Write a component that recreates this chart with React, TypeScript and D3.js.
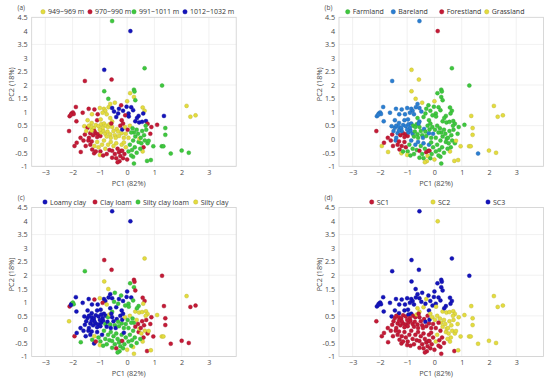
import React, { useRef, useEffect } from 'react';
import * as d3 from 'd3';

// legend groups of the four panels
const elevationGroups = ['949~969 m', '970~990 m', '991~1011 m', '1012~1032 m'];
const landUseGroups = ['Farmland', 'Bareland', 'Forestland', 'Grassland'];
const textureGroups = ['Loamy clay', 'Clay loam', 'Silty clay loam', 'Silty clay'];
const clusterGroups = ['SC1', 'SC2', 'SC3'];

const xTicks = [-3, -2, -1, 0, 1, 2, 3];
const yTicks = [-1, -0.5, 0, 0.5, 1, 1.5, 2, 2.5, 3, 3.5, 4, 4.5];
const yGrid = [-1, 0.5, 2, 3.5];

// rows: [PC1, PC2, elevation, land use, texture, cluster]
const outlierScores = [
    [-0.55, 4.36, 2, 1, 0, 2], [0.12, 3.99, 3, 2, 0, 1], [-0.84, 2.56, 3, 3, 1, 2],
    [-1.55, 2.15, 1, 1, 2, 2], [-0.57, 2.2, 1, 3, 1, 2], [0.64, 2.62, 2, 0, 3, 2],
    [1.28, 1.98, 2, 0, 1, 2], [-0.84, 1.77, 2, 3, 3, 2], [-0.69, 1.49, 2, 3, 3, 2],
    [2.18, 1.23, 0, 3, 3, 1], [2.32, 0.83, 0, 3, 1, 1], [2.51, 0.88, 0, 3, 1, 1],
    [1.35, 0.86, 3, 3, 1, 1], [1.1, 0.53, 1, 0, 3, 1], [1.4, 0.41, 2, 3, 1, 1],
    [1.4, 0.16, 2, 3, 1, 1], [0.96, -0.26, 2, 3, 1, 1], [1.27, -0.26, 2, 3, 3, 1],
    [1.33, -0.26, 2, 3, 3, 1], [1.6, -0.53, 2, 1, 1, 1], [2.0, -0.42, 2, 3, 1, 1],
    [2.26, -0.5, 2, 3, 1, 1], [0.73, -0.8, 2, 3, 1, 0], [0.87, -0.77, 2, 3, 3, 1],
    [0.22, -0.65, 2, 0, 3, 0], [0.25, -0.9, 2, 0, 3, 0],
];

const upperRightScores = [
    [0.25, 1.83, 2, 0, 1, 2], [0.27, 1.76, 2, 0, 1, 2], [0.11, 1.7, 0, 0, 2, 2],
    [0.25, 1.56, 0, 0, 2, 2], [0.3, 1.44, 2, 0, 1, 2], [0.0, 1.4, 0, 3, 0, 2],
    [0.15, 1.18, 3, 0, 0, 2], [0.22, 1.07, 3, 0, 2, 2], [0.05, 0.95, 3, 0, 2, 2],
    [0.57, 1.17, 0, 0, 1, 2], [0.64, 1.05, 0, 0, 1, 2], [0.59, 0.95, 3, 0, 3, 2],
    [0.42, 0.86, 3, 0, 2, 2], [0.3, 0.66, 3, 0, 3, 1], [0.44, 0.62, 3, 0, 3, 1],
    [0.55, 0.64, 3, 0, 3, 1], [0.69, 0.67, 3, 0, 3, 1], [0.36, 0.78, 3, 0, 2, 2],
    [0.75, 0.57, 1, 0, 3, 1], [0.89, 0.45, 1, 0, 1, 1],
];

const upperCentreScores = [
    [-0.85, 1.12, 0, 1, 0, 2], [-0.8, 1.05, 0, 1, 0, 2], [-0.9, 0.98, 0, 1, 1, 2],
    [-0.75, 0.92, 0, 1, 3, 2], [-0.68, 1.18, 0, 1, 0, 2], [-0.55, 1.15, 3, 1, 0, 2],
    [-0.48, 1.02, 3, 1, 2, 2], [-0.4, 0.82, 3, 0, 0, 1], [-0.33, 0.95, 3, 0, 2, 2],
    [-0.3, 1.12, 3, 0, 0, 1], [-0.22, 1.25, 1, 0, 2, 2], [-0.15, 1.05, 3, 0, 0, 2],
    [-0.07, 0.88, 1, 0, 2, 2], [0.06, 0.84, 3, 0, 2, 1], [-0.62, 0.78, 0, 0, 0, 1],
    [-0.55, 0.65, 0, 1, 2, 1], [-0.45, 1.35, 0, 3, 2, 2], [-0.62, 1.3, 0, 1, 0, 2],
    [-0.2, 0.7, 1, 0, 0, 2], [-0.02, 1.2, 3, 0, 0, 2],
];

const upperLeftScores = [
    [-2.11, 0.85, 1, 1, 1, 2], [-2.04, 0.95, 1, 1, 0, 2], [-1.99, 0.99, 1, 1, 2, 2],
    [-1.96, 0.93, 1, 1, 2, 2], [-1.88, 1.19, 1, 1, 0, 2], [-2.06, 0.9, 1, 1, 0, 2],
    [-1.63, 0.98, 1, 1, 0, 2], [-1.41, 1.12, 1, 1, 0, 2], [-1.2, 1.1, 1, 1, 1, 2],
    [-1.29, 0.92, 0, 1, 0, 2], [-1.08, 0.92, 1, 1, 0, 2], [-1.1, 0.7, 1, 1, 0, 2],
    [-0.97, 0.73, 0, 1, 0, 2], [-1.0, 1.15, 0, 1, 3, 2], [-1.86, 0.66, 1, 1, 0, 2],
    [-1.45, 0.7, 0, 1, 0, 2], [-1.3, 0.6, 0, 1, 0, 2],
];

const lowerLeftScores = [
    [-2.13, 0.3, 1, 2, 3, 0], [-1.93, -0.25, 1, 3, 1, 0], [-1.85, -0.13, 1, 2, 0, 0],
    [-1.7, -0.47, 1, 3, 2, 0], [-1.71, 0.05, 1, 2, 0, 0], [-1.57, 0.48, 0, 1, 0, 2],
    [-1.55, 0.17, 1, 2, 0, 0], [-1.45, 0.42, 1, 1, 0, 0], [-1.5, 0.3, 0, 1, 0, 0],
    [-1.6, -0.05, 1, 2, 0, 0], [-1.4, 0.5, 0, 1, 0, 0], [-1.52, -0.25, 1, 2, 0, 0],
    [-1.3, 0.45, 0, 1, 0, 0], [-1.22, 0.4, 0, 1, 0, 0], [-1.15, 0.52, 0, 1, 0, 0],
    [-1.05, 0.48, 0, 1, 0, 0], [-0.95, 0.55, 0, 1, 0, 2], [-0.85, 0.58, 0, 1, 0, 2],
    [-0.78, 0.5, 0, 0, 0, 0], [-0.7, 0.45, 0, 0, 2, 0], [-0.65, 0.55, 0, 0, 3, 1],
    [-1.35, 0.22, 1, 1, 0, 0], [-1.25, 0.15, 1, 2, 0, 0], [-1.15, 0.22, 1, 2, 0, 0],
    [-1.05, 0.18, 1, 2, 0, 0], [-0.98, 0.12, 1, 2, 0, 0], [-1.1, 0.08, 1, 2, 0, 0],
    [-0.95, 0.25, 0, 1, 0, 0], [-0.88, 0.32, 0, 1, 0, 0], [-0.8, 0.2, 0, 1, 2, 0],
    [-0.72, 0.28, 0, 0, 0, 0], [-0.62, 0.18, 0, 0, 2, 0], [-1.4, 0.05, 1, 1, 0, 0],
    [-1.2, 0.3, 1, 1, 0, 0], [-0.9, 0.42, 0, 1, 0, 0], [-1.0, 0.35, 0, 1, 0, 0],
    [-0.75, 0.1, 0, 0, 0, 0], [-1.3, 0.32, 0, 1, 0, 0],
    [-1.42, -0.05, 1, 1, 0, 0], [-1.35, -0.2, 1, 2, 0, 0], [-1.28, -0.38, 1, 2, 2, 0],
    [-1.21, -0.52, 1, 3, 0, 0], [-1.2, -0.25, 0, 2, 3, 0], [-1.1, -0.1, 0, 2, 0, 0],
    [-1.05, -0.3, 0, 2, 2, 0], [-0.98, -0.45, 1, 0, 2, 0], [-0.92, -0.2, 0, 0, 0, 0],
    [-0.85, -0.05, 0, 1, 2, 0], [-0.8, -0.35, 0, 0, 2, 0], [-0.75, -0.55, 1, 0, 2, 0],
    [-0.7, -0.2, 0, 1, 2, 0], [-0.65, -0.4, 1, 0, 2, 0], [-1.0, -0.58, 0, 3, 3, 0],
    [-1.15, -0.45, 1, 0, 1, 0], [-0.88, -0.6, 1, 0, 2, 0], [-0.6, -0.1, 0, 1, 2, 0],
    [-1.3, -0.08, 1, 2, 0, 0],
];

const lowerCentreScores = [
    [-0.55, -0.43, 1, 2, 2, 0], [-0.5, -0.25, 0, 0, 2, 0], [-0.45, -0.55, 1, 0, 2, 0],
    [-0.4, -0.7, 1, 0, 1, 0], [-0.35, -0.35, 1, 0, 2, 0], [-0.3, -0.48, 1, 2, 2, 0],
    [-0.25, -0.62, 1, 3, 2, 0], [-0.22, -0.43, 1, 2, 2, 0], [-0.18, -0.43, 1, 2, 1, 0],
    [-0.15, -0.7, 1, 0, 2, 0], [-0.28, -0.81, 1, 3, 2, 0], [-0.1, -0.55, 1, 0, 2, 0],
    [-0.05, -0.3, 0, 0, 2, 0], [0.0, -0.75, 1, 3, 3, 0], [0.05, -0.45, 2, 0, 2, 1],
    [0.1, -0.2, 2, 0, 2, 1], [-0.4, -0.15, 0, 1, 2, 0], [-0.2, -0.2, 0, 1, 2, 0],
    [-0.12, -0.12, 0, 0, 0, 0], [0.15, -0.6, 2, 0, 2, 0], [-0.55, -0.68, 1, 0, 2, 0],
    [-0.35, -0.85, 1, 3, 2, 0],
    [-0.55, 0.45, 0, 0, 0, 0], [-0.5, 0.3, 0, 0, 0, 0], [-0.45, 0.15, 0, 0, 2, 0],
    [-0.42, 0.05, 0, 1, 0, 0], [-0.38, 0.38, 0, 1, 0, 0], [-0.33, 0.28, 0, 0, 2, 2],
    [-0.3, 0.12, 0, 0, 2, 0], [-0.25, 0.5, 1, 0, 0, 0], [-0.2, 0.22, 0, 1, 2, 0],
    [-0.18, 0.36, 3, 0, 0, 2], [-0.12, 0.05, 0, 0, 2, 0], [-0.08, 0.45, 0, 0, 3, 1],
    [-0.05, 0.2, 0, 1, 2, 0], [0.02, 0.35, 1, 0, 2, 1], [0.05, 0.05, 0, 0, 2, 0],
    [0.1, 0.5, 0, 0, 3, 1], [-0.6, 0.05, 0, 0, 0, 0], [-0.58, 0.58, 1, 1, 0, 0],
    [-0.15, 0.58, 1, 0, 0, 1],
];

const lowerRightScores = [
    [0.2, 0.4, 2, 0, 2, 1], [0.25, 0.25, 2, 0, 2, 1], [0.3, 0.1, 2, 0, 1, 1],
    [0.22, -0.05, 2, 0, 2, 0], [0.28, -0.3, 2, 0, 2, 0], [0.35, 0.35, 2, 0, 3, 1],
    [0.4, 0.2, 2, 0, 1, 1], [0.42, -0.1, 2, 0, 1, 1], [0.45, 0.02, 0, 0, 3, 1],
    [0.5, 0.05, 2, 0, 1, 1], [0.52, -0.15, 2, 0, 3, 1], [0.55, 0.3, 2, 0, 1, 1],
    [0.57, -0.45, 0, 3, 3, 1], [0.6, -0.3, 1, 0, 1, 1], [0.62, 0.15, 2, 0, 1, 1],
    [0.65, -0.05, 2, 0, 3, 1], [0.7, 0.35, 2, 0, 1, 1], [0.75, -0.15, 2, 0, 1, 1],
    [0.79, -0.06, 2, 3, 3, 1], [0.35, -0.5, 2, 0, 2, 0], [0.15, 0.25, 2, 0, 2, 0],
    [0.85, 0.2, 1, 0, 1, 1], [0.48, -0.35, 2, 0, 2, 1], [0.18, -0.4, 2, 0, 2, 0],
    [0.68, 0.5, 2, 0, 3, 1],
];

const YELLOW = '#e4dc3e';
const RED = '#c41a36';
const GREEN = '#3ec83e';
const NAVY = '#1414bc';
const SKY = '#2a7ed2';

const panels = [
    { tag: '(a)', col: 2, groups: elevationGroups, colors: [YELLOW, RED, GREEN, NAVY], left: 31.7, top: 17.3, legend: [43, 90, 134, 185] },
    { tag: '(b)', col: 3, groups: landUseGroups, colors: [GREEN, SKY, RED, YELLOW], left: 339, top: 17.3, legend: [347.7, 393.3, 441.7, 486.7] },
    { tag: '(c)', col: 4, groups: textureGroups, colors: [NAVY, RED, GREEN, YELLOW], left: 31.7, top: 207.5, legend: [45, 95, 138, 195.7] },
    { tag: '(d)', col: 5, groups: clusterGroups, colors: [RED, YELLOW, NAVY], left: 339, top: 207.5, legend: [371.7, 433, 488] },
];

const FONT = "'Open Sans', sans-serif";

export default function App() {
    const svg_ref = useRef(null);

    useEffect(() => {
        const svg = d3.select(svg_ref.current);
        svg.selectAll('*').remove();

        const samples = [
            ...outlierScores, ...upperRightScores, ...upperCentreScores, ...upperLeftScores,
            ...lowerLeftScores, ...lowerCentreScores, ...lowerRightScores,
        ];
        const w = 204.5;
        const h = 149;

        panels.forEach((p) => {
            const x = d3.scaleLinear([-3.5, 4], [p.left, p.left + w]);
            const y = d3.scaleLinear([-1, 4.5], [p.top + h, p.top]);
            const g = svg.append('g');

            g.append('rect')
                .attr('x', p.left).attr('y', p.top)
                .attr('width', w).attr('height', h)
                .attr('fill', '#fff');

            g.selectAll('.gx').data(xTicks).join('line')
                .attr('x1', (d) => x(d)).attr('x2', (d) => x(d))
                .attr('y1', p.top).attr('y2', p.top + h)
                .attr('stroke', '#e8e8e8').attr('stroke-width', 0.6);
            g.selectAll('.gy').data(yGrid).join('line')
                .attr('x1', p.left).attr('x2', p.left + w)
                .attr('y1', (d) => y(d)).attr('y2', (d) => y(d))
                .attr('stroke', '#e8e8e8').attr('stroke-width', 0.6);

            const xAxis = d3.axisBottom(x).tickValues(xTicks).tickSize(0).tickPadding(3.5).tickFormat(d3.format('d'));
            const yAxis = d3.axisLeft(y).tickValues(yTicks).tickSize(0).tickPadding(4).tickFormat((d) => String(d));
            const ax = g.append('g').attr('transform', `translate(0,${p.top + h})`).call(xAxis);
            const ay = g.append('g').attr('transform', `translate(${p.left},0)`).call(yAxis);
            [ax, ay].forEach((a) => {
                a.select('.domain').remove();
                a.selectAll('text').attr('font-family', FONT).attr('font-size', 7.2).attr('fill', '#4a4a4a');
            });

            g.append('rect')
                .attr('x', p.left).attr('y', p.top)
                .attr('width', w).attr('height', h)
                .attr('fill', 'none').attr('stroke', '#cfcfcf').attr('stroke-width', 0.8);

            g.append('g').selectAll('circle').data(samples).join('circle')
                .attr('cx', (d) => x(d[0]))
                .attr('cy', (d) => y(d[1]))
                .attr('r', 2)
                .attr('fill', (d) => p.colors[d[p.col]])
                .attr('stroke', (d) => d3.color(p.colors[d[p.col]]).darker(0.6))
                .attr('stroke-width', 0.4);

            g.append('text')
                .attr('x', p.left + 97).attr('y', p.top + h + 19.5)
                .attr('text-anchor', 'middle')
                .attr('font-family', FONT).attr('font-size', 7.3).attr('fill', '#4a4a4a')
                .text('PC1 (82%)');
            g.append('text')
                .attr('transform', `translate(${p.left - 17.5},${p.top + 67}) rotate(-90)`)
                .attr('text-anchor', 'middle')
                .attr('font-family', FONT).attr('font-size', 7.3).attr('fill', '#4a4a4a')
                .text('PC2 (18%)');

            const ly = p.top - 5.5;
            g.append('text')
                .attr('x', p.left - 10.5).attr('y', p.top - 7.5)
                .attr('text-anchor', 'middle')
                .attr('font-family', FONT).attr('font-size', 6.5).attr('fill', '#4a4a4a')
                .text(p.tag);

            p.groups.forEach((name, i) => {
                g.append('circle')
                    .attr('cx', p.legend[i]).attr('cy', ly)
                    .attr('r', 2.2)
                    .attr('fill', p.colors[i])
                    .attr('stroke', d3.color(p.colors[i]).darker(0.6))
                    .attr('stroke-width', 0.4);
                g.append('text')
                    .attr('x', p.legend[i] + 5).attr('y', ly + 2.5)
                    .attr('font-family', FONT).attr('font-size', 7).attr('fill', '#333')
                    .text(name);
            });
        });
    }, []);

    return (
        <div style={{ position: 'absolute', left: 0, top: 0 }}>
            <svg ref={svg_ref} width={550} height={383} style={{ display: 'block', background: '#fff' }} />
        </div>
    );
}
